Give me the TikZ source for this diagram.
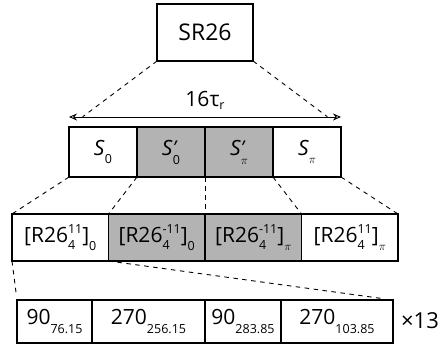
\documentclass[tikz,border=0pt]{standalone}
\usepackage{fontspec}
\setmainfont{Open Sans}
\usetikzlibrary{arrows.meta}
\definecolor{cellgray}{RGB}{179,179,179}
\newcommand{\lowr}[2][-8.5pt]{{\fontsize{12.5}{13}\selectfont\raisebox{#1}{#2}}}
\newcommand{\supsub}[2]{{\fontsize{12.5}{13}\selectfont\ooalign{\raisebox{9pt}{#1}\cr\raisebox{-7.5pt}{#2}\cr}}}
\newcommand{\primesub}[1]{{\fontsize{12.5}{13}\selectfont\ooalign{\raisebox{1pt}{\fontsize{19}{19}\selectfont\textit{'}}\cr\raisebox{-9pt}{#1}\cr}}}
\tikzset{
  cell/.style={draw, line width=1.1pt, inner sep=0pt, outer sep=0pt, font=\fontsize{21}{24}\selectfont},
  shaded/.style={cell, fill=cellgray},
  dline/.style={line width=0.9pt, dash pattern=on 4.5pt off 4.5pt},
  dimarrow/.style={line width=0.9pt, {Stealth[open,length=8pt,width=7pt]}-{Stealth[open,length=8pt,width=7pt]}}
}
\begin{document}
\begin{tikzpicture}[x=1pt,y=-1pt]
\useasboundingbox (0,0) rectangle (441,345);
% top box
\node[cell, minimum width=96pt, minimum height=57pt, font=\fontsize{23}{26}\selectfont] (sr) at (205,32.5) {SR26};
% row 2
\node[cell,   minimum width=68pt, minimum height=50pt] (s1) at (103,152) {\textit{S}\lowr{0}};
\node[shaded, minimum width=68pt, minimum height=50pt] (s2) at (171,152) {\textit{S}\primesub{0}};
\node[shaded, minimum width=68pt, minimum height=50pt] (s3) at (239,152) {\textit{S}\primesub{$\pi$}};
\node[cell,   minimum width=68pt, minimum height=50pt] (s4) at (307,152) {\textit{S}\lowr{$\pi$}};
% arrow
\coordinate (al) at (69,117);
\coordinate (ar) at (341,117);
\draw[dimarrow] (al) -- (ar);
\node[font=\fontsize{21}{24}\selectfont, inner sep=0pt] (lab) at (205,100) {16τ\lowr[-3pt]{r}};
% row 3
\node[cell,   minimum width=96.5pt, minimum height=47pt] (r1) at (60.25,237.5) {[R26\supsub{11}{4}]\lowr{0}};
\node[shaded, minimum width=96.5pt, minimum height=47pt] (r2) at (156.75,237.5) {[R26\supsub{-11}{4}]\lowr{0}};
\node[shaded, minimum width=96.5pt, minimum height=47pt] (r3) at (253.25,237.5) {[R26\supsub{-11}{4}]\lowr{$\pi$}};
\node[cell,   minimum width=96.5pt, minimum height=47pt] (r4) at (349.75,237.5) {[R26\supsub{11}{4}]\lowr{$\pi$}};
% row 4
\node[cell, minimum width=75pt,  minimum height=43pt] (q1) at (54.5,321.5) {90\lowr[-9pt]{76.15}};
\node[cell, minimum width=113pt, minimum height=43pt] (q2) at (148.5,321.5) {270\lowr[-9pt]{256.15}};
\node[cell, minimum width=76pt,  minimum height=43pt] (q3) at (243,321.5) {90\lowr[-9pt]{283.85}};
\node[cell, minimum width=112pt, minimum height=43pt] (q4) at (337,321.5) {270\lowr[-9pt]{103.85}};
\node[font=\fontsize{22}{24}\selectfont, inner sep=0pt] (rep) at (420,321) {×13};
% dashed zoom lines
\draw[dline, shorten >=17pt] (sr.south west) -- (s1.north west);
\draw[dline, shorten >=17pt] (sr.south east) -- (s4.north east);
\draw[dline] (s1.south west) -- (r1.north west);
\draw[dline] (s2.south west) -- (r2.north west);
\draw[dline] (s3.south west) -- (r3.north west);
\draw[dline] (s4.south west) -- (r4.north west);
\draw[dline] (s4.south east) -- (r4.north east);
\draw[dline, shorten >=6pt] (r1.south west) -- (q1.north west);
\draw[dline, shorten >=10pt] (r2.south west) -- (q4.north east);
\end{tikzpicture}
\end{document}
